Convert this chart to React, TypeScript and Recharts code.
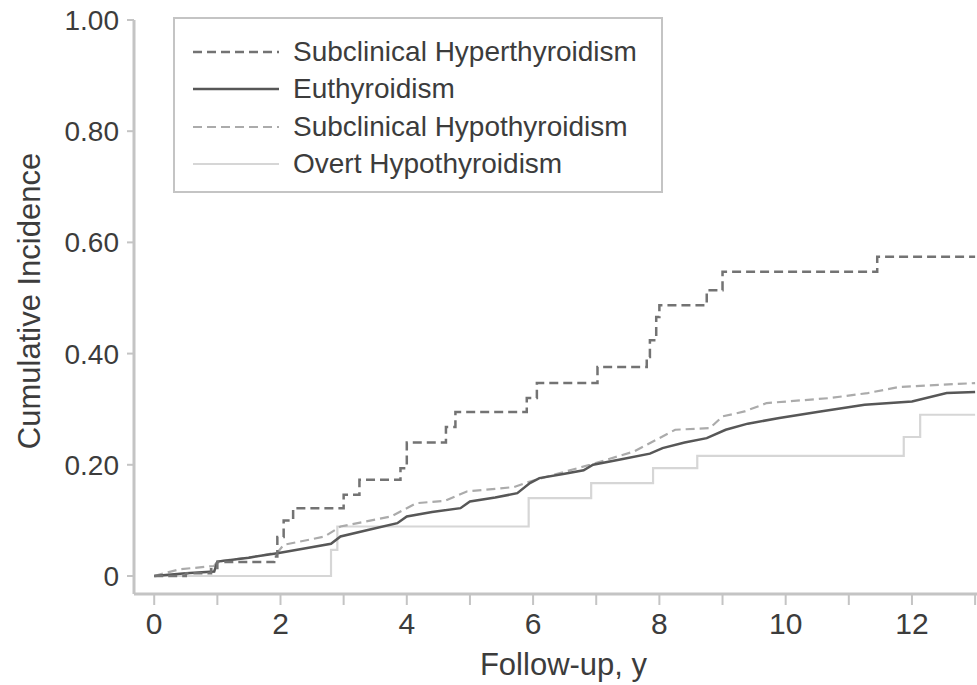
import React from 'react';
import { LineChart, Line, XAxis, YAxis, Label } from 'recharts';

document.body.style.margin = '0';

const FONT = '"Liberation Sans", Arial, Helvetica, sans-serif';
const AXIS = '#c4c4c4';
const TEXT = '#3c3c3c';

// [follow-up years, cumulative incidence]
const subHyper: [number, number][] = [
  [0, 0], [0.5, 0.005], [0.9, 0.012], [1.0, 0.025], [1.9, 0.035], [1.95, 0.07], [2.05, 0.1],
  [2.2, 0.122], [3.0, 0.146], [3.25, 0.173], [3.9, 0.194], [4.0, 0.24], [4.62, 0.268],
  [4.77, 0.295], [5.9, 0.32], [6.06, 0.347], [7.02, 0.376], [7.8, 0.394], [7.85, 0.424],
  [7.95, 0.466], [8.0, 0.487], [8.75, 0.514], [9.0, 0.547], [11.45, 0.574], [13, 0.574],
];

const euthyroid: [number, number][] = [
  [0, 0], [0.5, 0.005], [0.95, 0.008], [1.0, 0.026], [1.5, 0.033], [1.95, 0.041], [2.4, 0.05],
  [2.8, 0.058], [2.95, 0.071], [3.4, 0.083], [3.85, 0.095], [4.0, 0.107], [4.4, 0.115],
  [4.85, 0.122], [5.0, 0.134], [5.4, 0.141], [5.75, 0.149], [5.95, 0.167], [6.1, 0.176],
  [6.5, 0.184], [6.8, 0.19], [6.95, 0.2], [7.4, 0.21], [7.85, 0.22], [8.05, 0.23], [8.4, 0.24],
  [8.75, 0.248], [9.05, 0.263], [9.4, 0.274], [9.9, 0.284], [10.55, 0.296], [11.25, 0.308],
  [12.0, 0.314], [12.55, 0.329], [13, 0.331],
];

const subHypo: [number, number][] = [
  [0, 0], [0.4, 0.012], [0.95, 0.018], [1.0, 0.026], [1.6, 0.035], [1.95, 0.042], [2.05, 0.056],
  [2.7, 0.071], [2.95, 0.089], [3.75, 0.107], [3.95, 0.119], [4.15, 0.131], [4.6, 0.135],
  [4.95, 0.152], [5.7, 0.16], [5.95, 0.17], [6.2, 0.178], [6.9, 0.2], [7.6, 0.224],
  [7.95, 0.245], [8.25, 0.263], [8.8, 0.266], [9.0, 0.287], [9.35, 0.296], [9.7, 0.311],
  [10.7, 0.32], [11.3, 0.329], [11.8, 0.34], [13, 0.347],
];

const overtHypo: [number, number][] = [
  [0, 0], [2.8, 0.047], [2.9, 0.089], [5.93, 0.14], [6.92, 0.167], [7.9, 0.194],
  [8.6, 0.216], [11.87, 0.25], [12.13, 0.29], [13, 0.29],
];

const xTicks = [0, 1, 2, 3, 4, 5, 6, 7, 8, 9, 10, 11, 12, 13];
const yTicks = [0, 0.2, 0.4, 0.6, 0.8, 1.0];

const series = [
  { name: 'Subclinical Hyperthyroidism', points: subHyper, color: '#737373', width: 2.5, dash: '9 5', step: true },
  { name: 'Euthyroidism', points: euthyroid, color: '#575757', width: 2.5, dash: undefined, step: false },
  { name: 'Subclinical Hypothyroidism', points: subHypo, color: '#ababab', width: 2.2, dash: '9 5', step: false },
  { name: 'Overt Hypothyroidism', points: overtHypo, color: '#d6d6d6', width: 2.2, dash: undefined, step: true },
];

const toRows = (pts: [number, number][]) => pts.map(([t, v]) => ({ t, v }));

function YTitle(props: any) {
  const vb = props.viewBox || { x: 0, y: 0, width: 0, height: 0 };
  const x = vb.x + 29;
  const y = vb.y + vb.height / 2 - 6;
  return (
    <text x={x} y={y} transform={`rotate(-90 ${x} ${y})`} textAnchor="middle" dominantBaseline="central"
      style={{ fontFamily: FONT, fontSize: 31, fill: TEXT }}>
      Cumulative Incidence
    </text>
  );
}

function LegendBox() {
  return (
    <div style={{
      position: 'absolute', left: 173, top: 17, width: 490, height: 176,
      border: `2px solid ${AXIS}`, background: '#fff', paddingTop: 14, boxSizing: 'border-box',
    }}>
      {series.map((s) => (
        <div key={s.name} style={{ display: 'flex', alignItems: 'center', height: 37.5, paddingLeft: 18 }}>
          <svg width={88} height={6} style={{ marginRight: 12 }}>
            <line x1={0} y1={3} x2={86} y2={3} stroke={s.color} strokeWidth={s.width} strokeDasharray={s.dash} />
          </svg>
          <span style={{ fontFamily: FONT, fontSize: 28, color: TEXT, whiteSpace: 'nowrap' }}>{s.name}</span>
        </div>
      ))}
    </div>
  );
}

export default function App() {
  return (
    <div style={{ position: 'relative', width: 977, height: 685, background: '#fff' }}>
      <LineChart width={977} height={685} margin={{ top: 20, right: 0, bottom: 0, left: 0 }}>
        <XAxis
          dataKey="t" type="number" domain={[-0.32, 13.03]} ticks={xTicks} interval={0}
          tickFormatter={(t: number) => (t % 2 === 0 ? String(t) : '')}
          height={91} tickSize={11} tickMargin={8}
          axisLine={{ stroke: AXIS, strokeWidth: 3 }} tickLine={{ stroke: AXIS, strokeWidth: 2 }}
          tick={{ fontFamily: FONT, fontSize: 30, fill: TEXT }}
          allowDataOverflow
        >
          <Label value="Follow-up, y" position="insideBottom" offset={10} dx={8}
            style={{ fontFamily: FONT, fontSize: 31, fill: TEXT }} />
        </XAxis>
        <YAxis
          type="number" domain={[-0.0324, 1]} ticks={yTicks} interval={0}
          tickFormatter={(v: number) => (v === 0 ? '0' : v.toFixed(2))}
          width={134} tickSize={7} tickMargin={8}
          axisLine={{ stroke: AXIS, strokeWidth: 3 }} tickLine={{ stroke: AXIS, strokeWidth: 2 }}
          tick={{ fontFamily: FONT, fontSize: 28, fill: TEXT }}
          allowDataOverflow
        >
          <Label content={<YTitle />} />
        </YAxis>
        {series.slice().reverse().map((s) => (
          <Line
            key={s.name} name={s.name} data={toRows(s.points)} dataKey="v"
            type={s.step ? 'stepAfter' : 'linear'} stroke={s.color} strokeWidth={s.width}
            strokeDasharray={s.dash} dot={false} activeDot={false} isAnimationActive={false}
          />
        ))}
      </LineChart>
      <LegendBox />
    </div>
  );
}
